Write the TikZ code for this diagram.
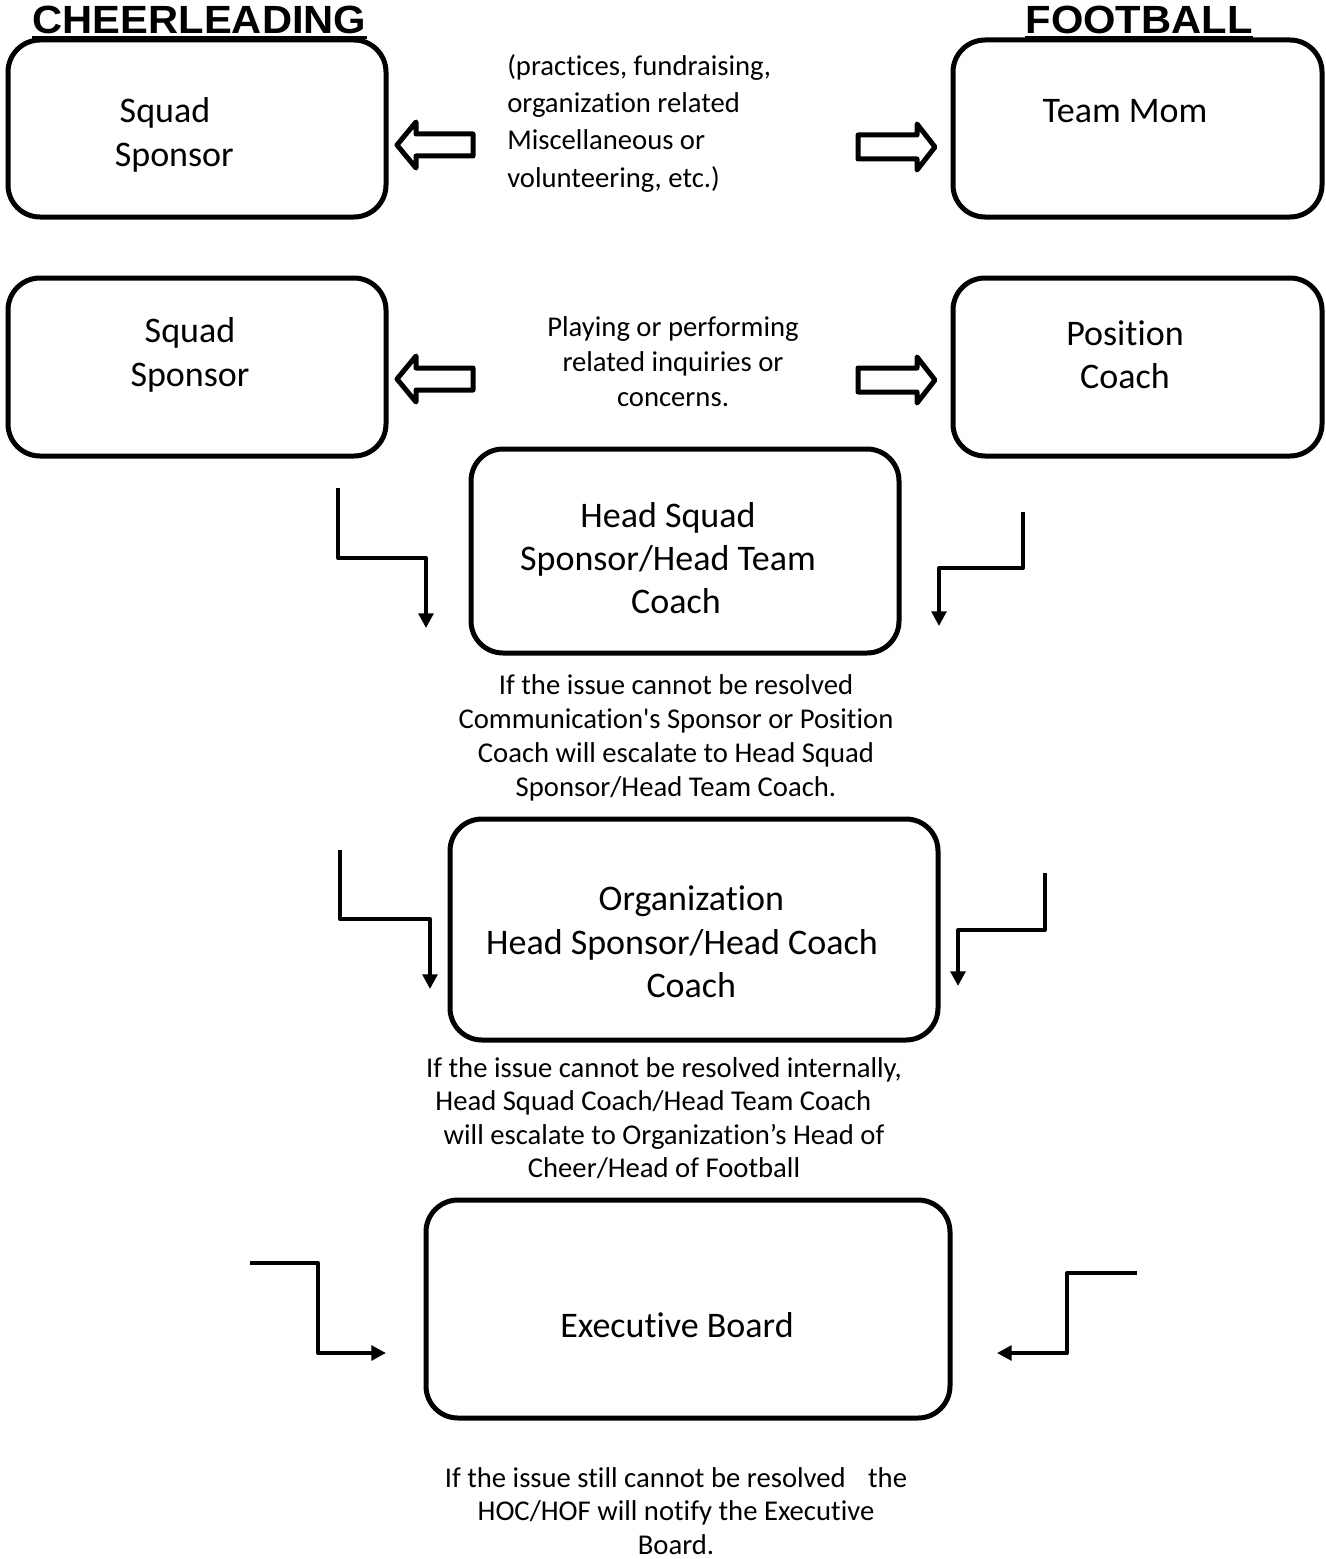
\documentclass[tikz,border=0pt]{standalone}
\usepackage{fontspec}
\setmainfont{Carlito}[RawFeature={-liga;-dlig;-clig;-calt;-rlig}]
\newfontfamily\titlefont{Liberation Sans}
\usetikzlibrary{arrows.meta}
\tikzset{
  box/.style={draw=black, line width=3.75pt, rounded corners=24pt, inner sep=0pt},
  boxtext/.style={align=center, inner sep=0pt, font=\fontsize{27pt}{32.5pt}\selectfont},
  note/.style={align=center, inner sep=0pt, font=\fontsize{21.5pt}{25.5pt}\selectfont},
  title/.style={inner sep=0pt, font=\titlefont\bfseries\fontsize{29.5pt}{32pt}\selectfont},
  blockarrow/.style={draw=black, line width=3.75pt, line join=round, fill=white},
  elbow/.style={draw=black, line width=3pt, line join=round, -{Triangle[width=11pt,length=11pt]}},
}
\begin{document}
\begin{tikzpicture}[x=0.75pt, y=-0.75pt]
\useasboundingbox (0,0) rectangle (1326,1559);

% titles
\node[title, anchor=base] (tcheer) at (199.5,34) {\scalebox{1.06}[1]{CHEERLEADING}};
\node[title, anchor=base] (tfoot) at (1139,34) {\scalebox{1.06}[1]{FOOTBALL}};
\draw[line width=2.5pt] (tcheer.base west) ++(0,3.5) coordinate (ul1) -- (tcheer.base east |- ul1);
\draw[line width=2.5pt] (tfoot.base west) ++(0,3.5) coordinate (ul2) -- (tfoot.base east |- ul2);

% boxes
\node[box, minimum width=283.5pt, minimum height=132.75pt] (b1) at (197,128.5) {};
\node[box, minimum width=276.75pt, minimum height=132.75pt] (b2) at (1137.5,128.5) {};
\node[box, minimum width=283.5pt, minimum height=133.5pt] (b3) at (197,367) {};
\node[box, minimum width=276.75pt, minimum height=133.5pt] (b4) at (1137.5,367) {};
\node[box, minimum width=321pt, minimum height=153pt] (b5) at (685,551) {};
\node[box, minimum width=366pt, minimum height=165.75pt] (b6) at (694,929.5) {};
\node[box, minimum width=393pt, minimum height=163.5pt] (b7) at (688,1309) {};

% box texts
\node[boxtext] (t1) at (165,135) {Squad\\\hspace*{14pt}Sponsor};
\node[boxtext] (t2) at (1125,111) {Team Mom};
\node[boxtext] (t3) at (190,355) {Squad\\Sponsor};
\node[boxtext] (t4) at (1125,355) {Position\\Coach};
\node[boxtext] (t5) at (668,558) {Head Squad\\Sponsor/Head Team\\\hspace*{12pt}Coach};
\node[boxtext] (t6) at (682,942) {\hspace*{14pt}Organization\\Head Sponsor/Head Coach\\\hspace*{14pt}Coach};
\node[boxtext] (t7) at (677,1325) {Executive Board};

% notes
\node[note, align=left, anchor=west, font=\fontsize{21.5pt}{28pt}\selectfont] (n1) at (507,123) {(practices, fundraising,\\organization related\\Miscellaneous or\\volunteering, etc.)};
\node[note, font=\fontsize{21.5pt}{26.25pt}\selectfont] (n2) at (673,362) {Playing or performing\\related inquiries or\\concerns.};
\node[note] (n3) at (676,738) {If the issue cannot be resolved\\Communication\textquotesingle s Sponsor or Position\\Coach will escalate to Head Squad\\Sponsor/Head Team Coach.};
\node[note, font=\fontsize{21.5pt}{25pt}\selectfont] (n4) at (664,1118) {If the issue cannot be resolved internally,\\Head Squad Coach/Head Team Coach\rule{16pt}{0pt}\\will escalate to Organization’s Head of\\Cheer/Head of Football};
\node[note, font=\fontsize{21.5pt}{25pt}\selectfont] (n5) at (676,1511) {If the issue still cannot be resolved\hspace{12pt} the\\HOC/HOF will notify the Executive\\Board.};

% block arrows
\draw[blockarrow] (397,145) -- (416,122) -- (416,134) -- (473,134) -- (473,156) -- (416,156) -- (416,168) -- cycle;
\draw[blockarrow] (935,147) -- (917,124) -- (917,135) -- (858,135) -- (858,159) -- (917,159) -- (917,170) -- cycle;
\draw[blockarrow] (397,379) -- (416,356) -- (416,368) -- (473,368) -- (473,390) -- (416,390) -- (416,402) -- cycle;
\draw[blockarrow] (935,380) -- (917,357) -- (917,368) -- (858,368) -- (858,392) -- (917,392) -- (917,403) -- cycle;

% elbow arrows
\coordinate (e1s) at (338,488); \coordinate (e1e) at (426,628);
\coordinate (e2s) at (1023,512); \coordinate (e2e) at (939,626);
\coordinate (e3s) at (340,850); \coordinate (e3e) at (430,989);
\coordinate (e4s) at (1045,873); \coordinate (e4e) at (958,986);
\coordinate (e5s) at (250,1263); \coordinate (e5e) at (386,1353);
\coordinate (e6s) at (1137,1273); \coordinate (e6e) at (997,1353);
\draw[elbow] (e1s) -- (338,558) -- (426,558) -- (e1e);
\draw[elbow] (e2s) -- (1023,568) -- (939,568) -- (e2e);
\draw[elbow] (e3s) -- (340,919) -- (430,919) -- (e3e);
\draw[elbow] (e4s) -- (1045,930) -- (958,930) -- (e4e);
\draw[elbow] (e5s) -- (318,1263) -- (318,1353) -- (e5e);
\draw[elbow] (e6s) -- (1067,1273) -- (1067,1353) -- (e6e);
\end{tikzpicture}
\end{document}
